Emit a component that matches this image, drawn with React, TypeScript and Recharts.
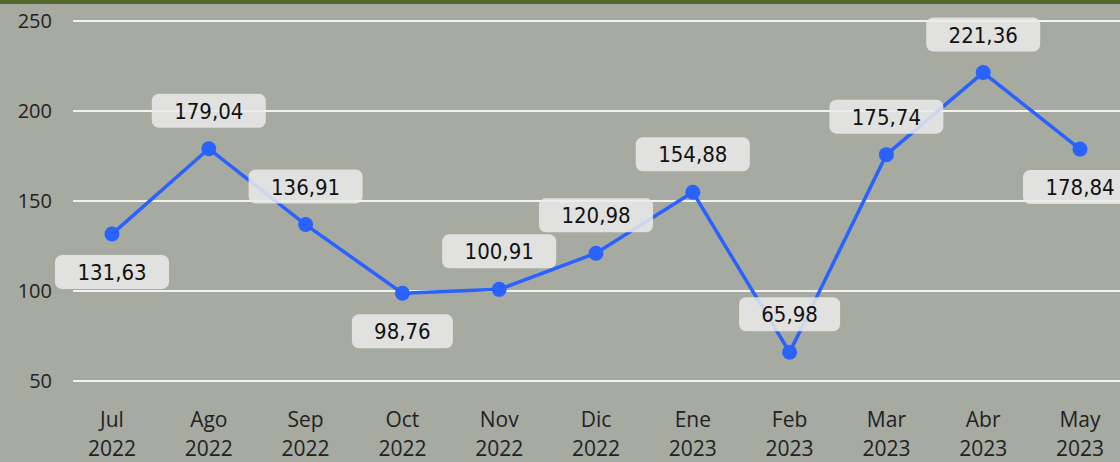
import React from 'react';
import { LineChart, Line, XAxis, YAxis, CartesianGrid, LabelList } from 'recharts';

const MONTHS = ['Jul', 'Ago', 'Sep', 'Oct', 'Nov', 'Dic', 'Ene', 'Feb', 'Mar', 'Abr', 'May'];
const YEARS = ['2022', '2022', '2022', '2022', '2022', '2022', '2023', '2023', '2023', '2023', '2023'];
const VALUES = [131.63, 179.04, 136.91, 98.76, 100.91, 120.98, 154.88, 65.98, 175.74, 221.36, 178.84];
const Y_TICKS = [50, 100, 150, 200, 250];

// months whose value label sits under the point
const LABEL_BELOW = ['Jul', 'Oct', 'May'];

const data = MONTHS.map((m, i) => ({ month: m, year: YEARS[i], value: VALUES[i] }));

const fmt = (v: number) => v.toFixed(2).replace('.', ',');

const MonthTick = (props: any) => {
  const { x, y, payload, index } = props;
  return (
    <g transform={`translate(${x},${y})`}>
      <text textAnchor="middle" fill="#222" fontSize={21} fontFamily="'Open Sans', sans-serif">
        <tspan x={0} dy={44}>{payload.value}</tspan>
        <tspan x={0} dy={29}>{YEARS[index]}</tspan>
      </text>
    </g>
  );
};

const ValueLabel = (props: any) => {
  const { x, y, value, index } = props;
  const text = fmt(value);
  const below = LABEL_BELOW.includes(MONTHS[index]);
  const cy = below ? y + 38 : y - 38;
  const w = text.length * 13 + 36;
  const h = 34;
  return (
    <g>
      <rect x={x - w / 2} y={cy - h / 2} width={w} height={h} rx={7} fill="#ebebeb" fillOpacity={0.85} />
      <text
        x={x}
        y={cy}
        dy={8}
        textAnchor="middle"
        fill="#111"
        fontSize={22}
        fontFamily="'DejaVu Sans Condensed', 'DejaVu Sans', sans-serif"
      >
        {text}
      </text>
    </g>
  );
};

export default function App() {
  return (
    <div
      style={{
        position: 'fixed',
        left: 0,
        top: 0,
        width: 1120,
        height: 462,
        background: '#a6aaa0',
        overflow: 'hidden',
      }}
    >
      <div style={{ height: 4, background: '#55682f' }} />
      <LineChart
        width={1120}
        height={458}
        data={data}
        margin={{ top: 17, right: 0, bottom: 0, left: 0 }}
        style={{ fontFamily: "'Open Sans', sans-serif" }}
      >
        <CartesianGrid vertical={false} stroke="#f2f2f2" strokeWidth={2} />
        <XAxis
          dataKey="month"
          axisLine={false}
          tickLine={false}
          tickSize={0}
          height={81}
          interval={0}
          padding={{ left: 39, right: 40 }}
          tick={<MonthTick />}
        />
        <YAxis
          domain={[50, 250]}
          ticks={Y_TICKS}
          axisLine={false}
          tickLine={false}
          tickSize={0}
          tickMargin={21}
          width={73}
          tick={{ fill: '#222', fontSize: 20 }}
        />
        <Line
          dataKey="value"
          stroke="#2962ff"
          strokeWidth={3.5}
          dot={{ r: 7.5, fill: '#2962ff', stroke: '#2962ff', strokeWidth: 0 }}
          activeDot={false}
          isAnimationActive={false}
        >
          <LabelList dataKey="value" content={<ValueLabel />} />
        </Line>
      </LineChart>
    </div>
  );
}
